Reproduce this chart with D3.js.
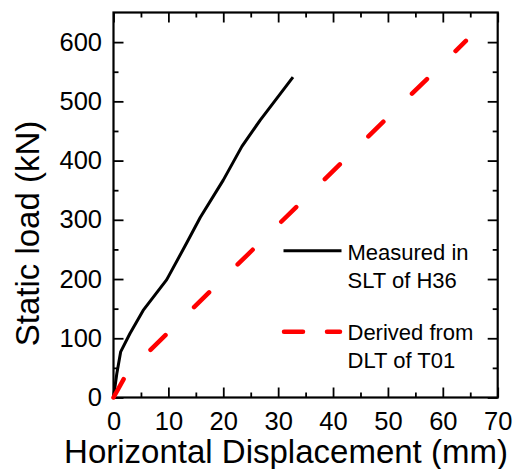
<!DOCTYPE html>
<html>
<head>
<meta charset="utf-8">
<script src="https://cdn.jsdelivr.net/npm/d3@7"></script>
<style>
  html, body { margin: 0; padding: 0; background: #fff; }
  svg { display: block; font-family: "Liberation Sans", Arial, sans-serif; }
</style>
</head>
<body>
<svg id="chart" width="518" height="469"></svg>
<script>
// Load–displacement data (displacement in mm, load in kN)
const measuredDisp = [0, 0.6, 1.3, 3.0, 5.4, 9.7, 13.4, 15.8, 20.0, 23.4, 26.7, 32.7];
const measuredLoad = [0, 40, 77, 108, 147, 199, 262, 304, 367, 424, 468, 541];
const derivedDisp = [0, 2.5, 64.2];
const derivedLoad = [0, 42, 602];

const xMajorTicks = [0, 10, 20, 30, 40, 50, 60, 70];
const xMinorTicks = [5, 15, 25, 35, 45, 55, 65];
const yMajorTicks = [0, 100, 200, 300, 400, 500, 600];
const yMinorTicks = [50, 150, 250, 350, 450, 550];

const legendLabels = [["Measured in", "SLT of H36"], ["Derived from", "DLT of T01"]];
const xTitle = "Horizontal Displacement (mm)";
const yTitle = "Static load (kN)";

const svg = d3.select("#chart");
const plot = { left: 113.5, right: 497.7, top: 12.5, bottom: 397.5 };

const x = d3.scaleLinear().domain([0, 70]).range([plot.left, plot.right]);
const y = d3.scaleLinear().domain([0, 650]).range([plot.bottom, plot.top]);

const tickFont = 25.5;

function styleAxis(g) {
  g.select(".domain").remove();
  g.selectAll(".tick line").attr("stroke", "#000").attr("stroke-width", 1.8);
  g.selectAll("text").attr("fill", "#000").style("font-size", tickFont + "px")
    .style("font-family", "'Liberation Sans', Arial, sans-serif");
}

// Bottom axis: inward ticks with labels
svg.append("g").attr("transform", `translate(0,${plot.bottom})`)
  .call(d3.axisBottom(x).tickValues(xMajorTicks).tickSize(-10).tickPadding(14).tickFormat(d3.format("d")))
  .call(styleAxis);
svg.append("g").attr("transform", `translate(0,${plot.bottom})`)
  .call(d3.axisBottom(x).tickValues(xMinorTicks).tickSize(-5).tickFormat(""))
  .call(styleAxis);
// Top axis: ticks only
svg.append("g").attr("transform", `translate(0,${plot.top})`)
  .call(d3.axisTop(x).tickValues(xMajorTicks).tickSize(-10).tickFormat(""))
  .call(styleAxis);
svg.append("g").attr("transform", `translate(0,${plot.top})`)
  .call(d3.axisTop(x).tickValues(xMinorTicks).tickSize(-5).tickFormat(""))
  .call(styleAxis);
// Left axis: inward ticks with labels
svg.append("g").attr("transform", `translate(${plot.left},0)`)
  .call(d3.axisLeft(y).tickValues(yMajorTicks).tickSize(-10).tickPadding(11.5).tickFormat(d3.format("d")))
  .call(styleAxis);
svg.append("g").attr("transform", `translate(${plot.left},0)`)
  .call(d3.axisLeft(y).tickValues(yMinorTicks).tickSize(-5).tickFormat(""))
  .call(styleAxis);
// Right axis: ticks only
svg.append("g").attr("transform", `translate(${plot.right},0)`)
  .call(d3.axisRight(y).tickValues(yMajorTicks).tickSize(-10).tickFormat(""))
  .call(styleAxis);
svg.append("g").attr("transform", `translate(${plot.right},0)`)
  .call(d3.axisRight(y).tickValues(yMinorTicks).tickSize(-5).tickFormat(""))
  .call(styleAxis);

// Plot frame
svg.append("rect")
  .attr("x", plot.left).attr("y", plot.top)
  .attr("width", plot.right - plot.left).attr("height", plot.bottom - plot.top)
  .attr("fill", "none").attr("stroke", "#000").attr("stroke-width", 2.2);

const line = d3.line().x(d => x(d[0])).y(d => y(d[1]));

// Measured curve
svg.append("path")
  .datum(d3.zip(measuredDisp, measuredLoad))
  .attr("d", line)
  .attr("fill", "none").attr("stroke", "#000").attr("stroke-width", 3)
  .attr("stroke-linejoin", "round");

// Derived curve
svg.append("path")
  .datum(d3.zip(derivedDisp, derivedLoad))
  .attr("d", line)
  .attr("fill", "none").attr("stroke", "#ff0000").attr("stroke-width", 4.5)
  .attr("stroke-linecap", "round").attr("stroke-dasharray", "21 40");

// Legend
const legendFont = 22;
svg.append("line").attr("x1", 283.5).attr("x2", 341.5).attr("y1", 250.7).attr("y2", 250.7)
  .attr("stroke", "#000").attr("stroke-width", 3);
svg.append("line").attr("x1", 284).attr("x2", 340).attr("y1", 331.7).attr("y2", 331.7)
  .attr("stroke", "#ff0000").attr("stroke-width", 4.5)
  .attr("stroke-linecap", "round").attr("stroke-dasharray", "19 24");

const legendBase = [259.5, 339.5];
legendLabels.forEach((lines, i) => {
  lines.forEach((t, j) => {
    svg.append("text")
      .attr("x", 347.5).attr("y", legendBase[i] + j * 28.5)
      .style("font-size", legendFont + "px").attr("fill", "#000")
      .text(t);
  });
});

// Axis titles
svg.append("text")
  .attr("x", 286).attr("y", 462.7).attr("text-anchor", "middle")
  .style("font-size", "33px").attr("fill", "#000")
  .text(xTitle);

svg.append("text")
  .attr("transform", "translate(38.5,233.5) rotate(-90)")
  .attr("text-anchor", "middle")
  .style("font-size", "33px").attr("fill", "#000")
  .text(yTitle);
</script>
</body>
</html>
